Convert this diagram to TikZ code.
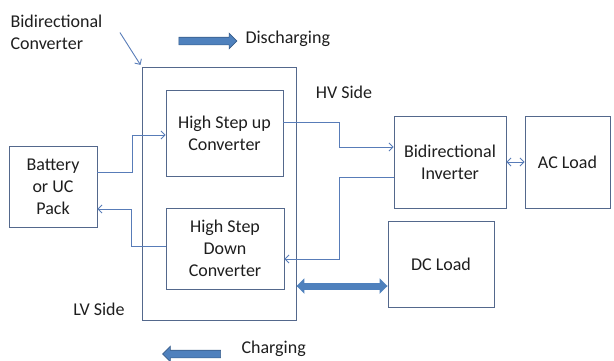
\documentclass[tikz,border=0pt]{standalone}
\usepackage{fontspec}
\setmainfont{Carlito}
\usetikzlibrary{arrows.meta,shapes.arrows}
\definecolor{boxline}{RGB}{84,104,140}
\definecolor{wirecol}{RGB}{88,124,184}
\definecolor{flowfill}{RGB}{79,129,189}
\definecolor{flowline}{RGB}{56,93,138}
\definecolor{txt}{RGB}{30,30,30}
\begin{document}
\begin{tikzpicture}[x=1pt,y=-1pt,
  >={Straight Barb[length=4pt,width=8pt]},
  every node/.style={font=\fontsize{18}{22}\selectfont, text=txt},
  block/.style={draw=boxline, line width=0.9pt, align=center, inner sep=0pt},
  wire/.style={draw=wirecol, line width=0.9pt},
  flow/.style={single arrow, fill=flowfill, draw=flowline, line width=0.6pt,
    inner sep=3.5pt, minimum height=58pt, single arrow head extend=4pt},
  bus/.style={draw=flowfill, line width=7pt,
    {Triangle[length=8pt,width=15pt]}-{Triangle[length=8pt,width=15pt]}}]
\useasboundingbox (0,0) rectangle (614,360);
\node[block, minimum width=154pt, minimum height=253pt] (conv) at (219,193.5) {};
\node[block, minimum width=117pt, minimum height=86pt] (stepup) at (224.5,133) {High Step up\\Converter};
\node[block, minimum width=118pt, minimum height=81pt] (stepdown) at (225,248.5) {High Step\\Down\\Converter};
\node[block, minimum width=88pt, minimum height=81pt] (battery) at (53,186.5) {Battery\\or UC\\Pack};
\node[block, minimum width=112pt, minimum height=92pt] (inverter) at (450,162) {Bidirectional\\Inverter};
\node[block, minimum width=85pt, minimum height=92pt] (acload) at (567.5,162) {AC Load};
\node[block, minimum width=106pt, minimum height=86pt] (dcload) at (441,264) {DC Load};

\node[anchor=west, align=left] (convlabel) at (7,32.5) {Bidirectional\\Converter};
\node[anchor=west] (dischargelabel) at (242,39) {Discharging};
\node[anchor=west] (chargelabel) at (238,349) {Charging};
\node (hvlabel) at (344,92) {HV Side};
\node (lvlabel) at (99,309) {LV Side};
\node[flow] (dischargearrow) at (206,41) {};
\node[flow, shape border rotate=180] (chargearrow) at (193.5,354) {};

\draw[wire, ->, shorten >=2pt] ([xshift=14pt]convlabel.east) -- (conv.north west);
\draw[wire, ->] ([yshift=14.5pt]battery.east) -- ++(35,0) |- ([yshift=-2pt]stepup.west);
\draw[wire, ->] ([yshift=2.5pt]stepdown.west) -- ++(-34,0) |- ([yshift=-22.5pt]battery.east);
\draw[wire, ->] ([yshift=11pt]stepup.east) -- ++(56,0) |- ([yshift=15pt]inverter.west);
\draw[wire, ->] ([yshift=-15pt]inverter.west) -- ++(-54,0) |- ([yshift=-10.5pt]stepdown.east);
\draw[wire, <->] (inverter) -- (acload);
\coordinate (busstart) at ([yshift=-92.5pt]conv.east);
\draw[bus] (busstart) -- (busstart -| dcload.west);
\end{tikzpicture}
\end{document}
